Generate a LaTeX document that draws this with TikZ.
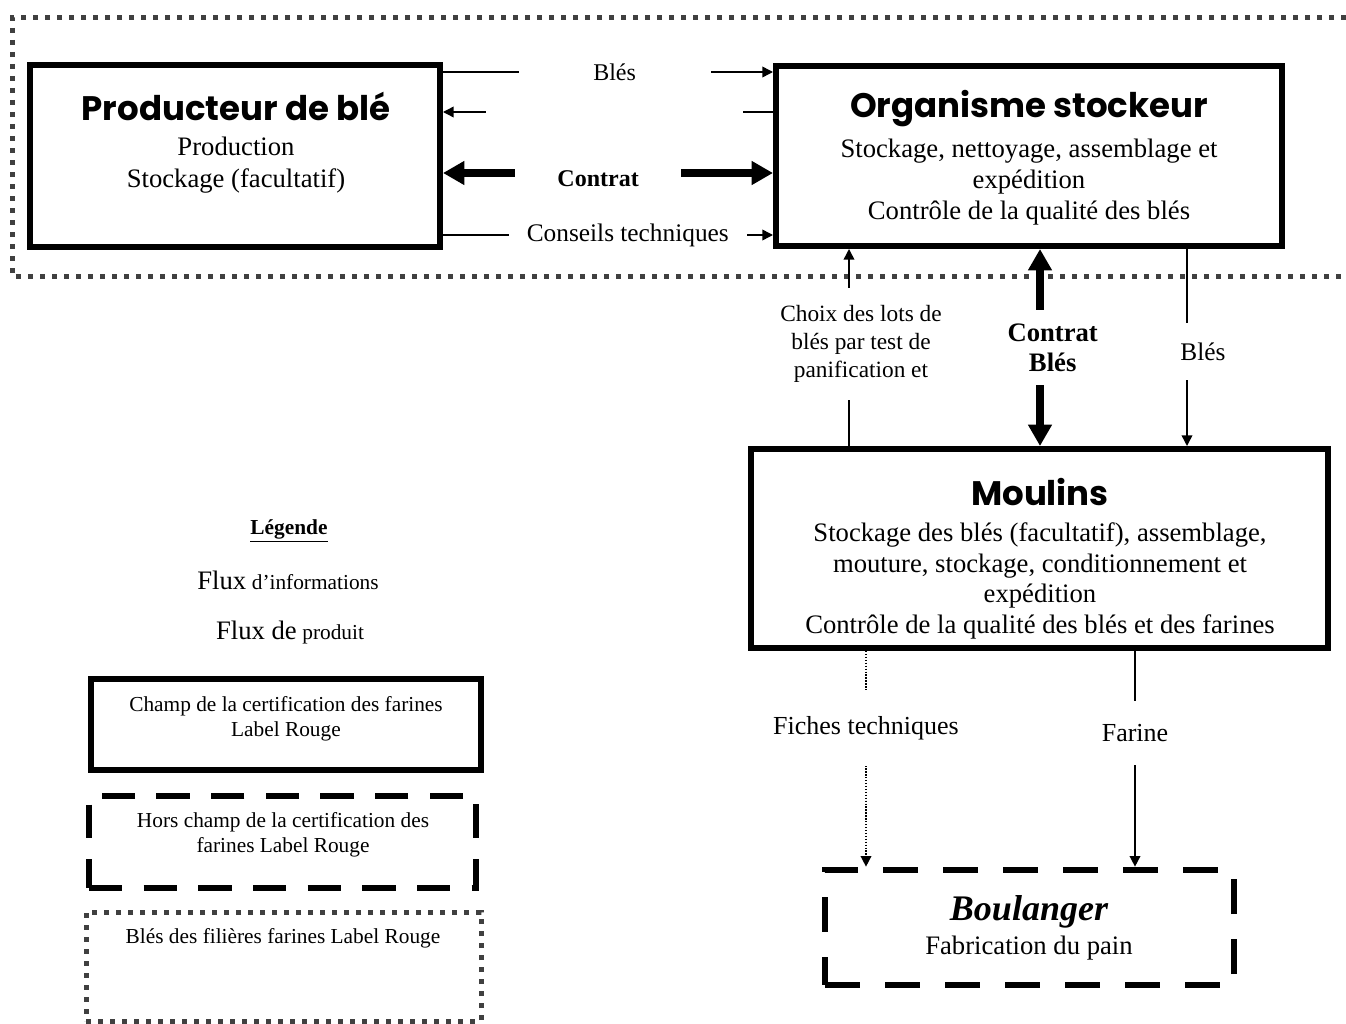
\documentclass[tikz,border=0pt]{standalone}
\usepackage{fontspec}
\setmainfont{Liberation Serif}
\newfontfamily\titlefont{Poppins}
\usetikzlibrary{arrows.meta,calc}
\tikzset{
  box/.style={draw, line width=4.5pt, inner sep=0pt},
  dashbox/.style={draw, line width=5pt, dash pattern=on 26pt off 19pt, inner sep=0pt},
  dotbox/.style={draw=black!75, line width=3.75pt, dash pattern=on 3.75pt off 5.25pt, inner sep=0pt},
  flux/.style={line width=1.1pt, -{Triangle[length=8pt,width=8pt]}},
  fluxpoint/.style={flux, dash pattern=on 1pt off 1.2pt},
  gros/.style={line width=6pt, {Triangle[length=16pt,width=17pt]}-{Triangle[length=16pt,width=17pt]}},
  gap/.style={fill=white, inner sep=0pt, align=center},
  corps/.style={align=center, font=\fontsize{20}{23}\selectfont},
  petit/.style={align=center, font=\fontsize{16}{19}\selectfont},
  titre/.style={font=\titlefont\bfseries\fontsize{25.5}{30}\selectfont},
}

\begin{document}
\begin{tikzpicture}[x=0.75pt,y=-0.75pt]
		%%%%% START %%%%%
		\useasboundingbox (0,0) rectangle (1346,1024);
		
		% zone des bles Label Rouge
		\draw[dotbox] (1346,18) -- (12,18) -- (12,276) -- (1346,276);
		
		\node[box, minimum width=307.5pt, minimum height=136.5pt] (prod) at (235,156) {};
		\node[titre] (prodtitre) at (236,106) {Producteur de blé};
		\node[corps, font=\fontsize{20}{24}\selectfont] (prodcorps) at (236,165) {Production\\Stockage (facultatif)};
		
		\node[box, minimum width=379.5pt, minimum height=135pt] (org) at (1029,156) {};
		\node[titre] (orgtitre) at (1029,109) {Organisme stockeur};
		\node[corps] (orgcorps) at (1029,182) {Stockage, nettoyage, assemblage et\\expédition\\Contrôle de la qualité des blés};
		
		\node[box, minimum width=432.75pt, minimum height=149.25pt] (moulins) at (1039.5,548.5) {};
		\node[titre] (moultitre) at (1040,492) {Moulins};
		\node[corps] (moulcorps) at (1040,581) {Stockage des blés (facultatif), assemblage,\\mouture, stockage, conditionnement et\\expédition\\Contrôle de la qualité des blés et des farines};
		
		\node[dashbox, minimum width=306.75pt, minimum height=86.25pt] (boul) at (1029.5,927.5) {};
		\node[corps, font=\fontsize{20}{26}\selectfont] (boulcorps) at (1029,928) {{\fontsize{27}{30}\selectfont\bfseries\itshape Boulanger}\\Fabrication du pain};
		
		% entre producteur et organisme stockeur
		\coordinate (r1) at (0,72);
		\coordinate (r2) at (0,112);
		\coordinate (r3) at (0,173);
		\coordinate (r4) at (0,235);
		\draw[flux] (prod.east |- r1) -- node[gap, pos=0.52, minimum width=144pt, minimum height=20pt, font=\fontsize{18}{20}\selectfont] (bles1) {Blés} (org.west |- r1);
		\draw[flux] (org.west |- r2) -- node[gap, pos=0.48, minimum width=193pt, minimum height=20pt] (gap2) {} (prod.east |- r2);
		\draw[gros] (prod.east |- r3) -- node[gap, pos=0.47, minimum width=124.5pt, minimum height=30pt, font=\bfseries\fontsize{18}{20}\selectfont] (contrat1) {} (org.west |- r3);
		\node[font=\bfseries\fontsize{18}{20}\selectfont] (contrattxt) at ($(contrat1)+(0,6)$) {Contrat};
		\draw[flux] (prod.east |- r4) -- node[gap, pos=0.56, minimum width=178.5pt, minimum height=22pt, font=\fontsize{19}{21}\selectfont] (conseils) {Conseils techniques} (org.west |- r4);
		
		% entre organisme stockeur et moulins
		\coordinate (c1) at (849,0);
		\coordinate (c2) at (1040,0);
		\coordinate (c3) at (1187,0);
		\draw[flux] (moulins.north -| c1) -- node[gap, pos=0.52, minimum height=84pt, font=\fontsize{17.5}{21}\selectfont] (choix) {\hspace*{18pt}Choix des lots de\\\hspace*{18pt}blés par test de\\\hspace*{18pt}panification et} (org.south -| c1);
		\draw[gros] (org.south -| c2) -- node[gap, pos=0.5, minimum height=56pt, font=\bfseries\fontsize{20}{22.5}\selectfont] (contrat2) {\hspace*{19pt}Contrat\\\hspace*{19pt}Blés} (moulins.north -| c2);
		\draw[flux] (org.south -| c3) -- node[gap, pos=0.52, minimum height=43pt, font=\fontsize{19}{21}\selectfont] (bles2) {\hspace*{24pt}Blés} (moulins.north -| c3);
		
		% entre moulins et boulanger
		\coordinate (m1) at (866,0);
		\coordinate (m2) at (1135,0);
		\draw[fluxpoint] (moulins.south -| m1) -- node[gap, pos=0.36, minimum height=56pt, font=\fontsize{19.5}{21}\selectfont] (fiches) {Fiches techniques} (boul.north -| m1);
		\draw[flux] (moulins.south -| m2) -- node[gap, pos=0.38, minimum height=48pt, font=\fontsize{19.5}{21}\selectfont] (farine) {Farine} (boul.north -| m2);
		
		% legende
		\node[font=\bfseries\fontsize{16}{18}\selectfont] (legende) at (289,531) {\underline{Légende}};
		\node (fluxinfo) at (288,580) {{\fontsize{20}{22}\selectfont Flux}\, {\fontsize{16}{18}\selectfont d’informations}};
		\node (fluxprod) at (290,633) {{\fontsize{20}{22}\selectfont Flux de}\, {\fontsize{16}{18}\selectfont produit}};
		
		\node[box, minimum width=292.5pt, minimum height=68.25pt] (champ) at (286,724.5) {};
		\node[petit] (champtxt) at (286,719) {Champ de la certification des farines\\Label Rouge};
		\node[dashbox, dash pattern=on 25pt off 16pt, minimum width=290.25pt, minimum height=69pt] (hors) at (282.5,842) {};
		\node[petit] (horstxt) at (283,835) {Hors champ de la certification des\\farines Label Rouge};
		\node[dotbox, minimum width=296.25pt, minimum height=81.75pt] (filieres) at (283.5,966.5) {};
		\node[petit] (filierestxt) at (283,938) {Blés des filières farines Label Rouge};
		
		%%%%% END %%%%%
	\end{tikzpicture}
\end{document}
